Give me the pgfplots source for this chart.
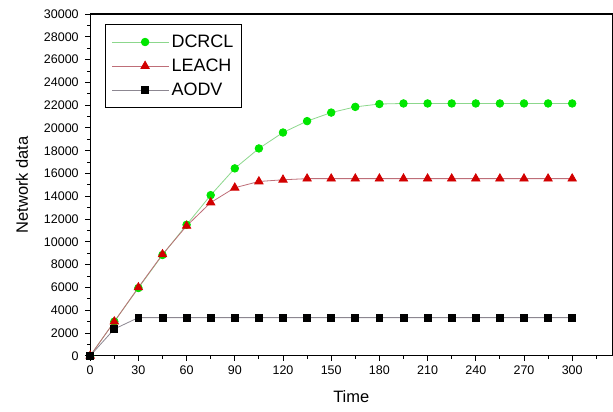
\documentclass[border=0pt]{standalone}
\usepackage{pgfplots}
\pgfplotsset{compat=1.18}
\usepackage{fontspec}
\setmainfont{Liberation Sans}
\definecolor{dgreen}{RGB}{0,230,0}
\definecolor{lgreen}{RGB}{140,215,140}
\definecolor{dred}{RGB}{210,0,0}
\definecolor{lred}{RGB}{190,110,120}
\definecolor{lgray}{RGB}{140,135,145}
\begin{document}
\begin{tikzpicture}
\begin{axis}[
  scale only axis, width=521bp, height=341bp,
  xmin=0, xmax=325, ymin=0, ymax=30000,
  xtick={0,30,...,300}, minor xtick={15,45,...,315},
  ytick={0,2000,...,30000}, minor ytick={1000,3000,...,29000},
  tick align=outside, tick pos=left,
  major tick length=5bp, minor tick length=3bp,
  every tick/.style={black, line width=0.9pt},
  axis line style={line width=1.3pt},
  /pgf/number format/assume math mode=true,
  /pgf/number format/1000 sep={},
  scaled y ticks=false,
  tick label style={font=\fontsize{12.5}{14}\selectfont},
  yticklabel style={xshift=-3bp},
  xticklabel style={yshift=-1pt},
  xlabel={Time}, ylabel={Network data},
  label style={font=\fontsize{16.5}{18}\selectfont},
  xlabel style={yshift=-10bp},
  ylabel style={yshift=9bp},
  legend style={at={(0.0288,0.9705)}, anchor=north west, draw=black, line width=0.8pt,
    font=\fontsize{18}{20}\selectfont, inner xsep=6pt, inner ysep=8.5pt, row sep=6pt},
  legend cell align=left,
  legend image code/.code={
    \path (0bp,0bp) -- (57bp,0bp);
    \draw[#1, mark=none] (11bp,0bp) -- (55bp,0bp);
    \draw[#1, draw=none] plot coordinates {(33bp,0bp)};
  },
]
\addplot[lgreen, line width=0.8pt, mark=*, mark size=3.8pt, mark options={draw=dgreen, fill=dgreen}] coordinates {
(0,0) (15,3000) (30,5950) (45,8850) (60,11500) (75,14100) (90,16450) (105,18200) (120,19600) (135,20600) (150,21350) (165,21850) (180,22100) (195,22150) (210,22150) (225,22150) (240,22150) (255,22150) (270,22150) (285,22150) (300,22150)};
\addlegendentry{DCRCL}
\addplot[lred, line width=0.8pt, mark=triangle*, mark size=4.8pt, mark options={draw=dred, fill=dred}] coordinates {
(0,0) (15,3000) (30,6000) (45,8900) (60,11400) (75,13450) (90,14750) (105,15300) (120,15450) (135,15550) (150,15550) (165,15550) (180,15550) (195,15550) (210,15550) (225,15550) (240,15550) (255,15550) (270,15550) (285,15550) (300,15550)};
\addlegendentry{LEACH}
\addplot[lgray, line width=0.8pt, mark=square*, mark size=3.5pt, mark options={draw=black, fill=black}] coordinates {
(0,0) (15,2350) (30,3350) (45,3350) (60,3350) (75,3350) (90,3350) (105,3350) (120,3350) (135,3350) (150,3350) (165,3350) (180,3350) (195,3350) (210,3350) (225,3350) (240,3350) (255,3350) (270,3350) (285,3350) (300,3350)};
\addlegendentry{AODV}
\coordinate (tl) at (rel axis cs:0,1);
\coordinate (bl) at (rel axis cs:0,0);
\end{axis}
\path (tl) -- ++(-90bp,14bp);
\path (bl) -- ++(0,-56bp);
\end{tikzpicture}
\end{document}
